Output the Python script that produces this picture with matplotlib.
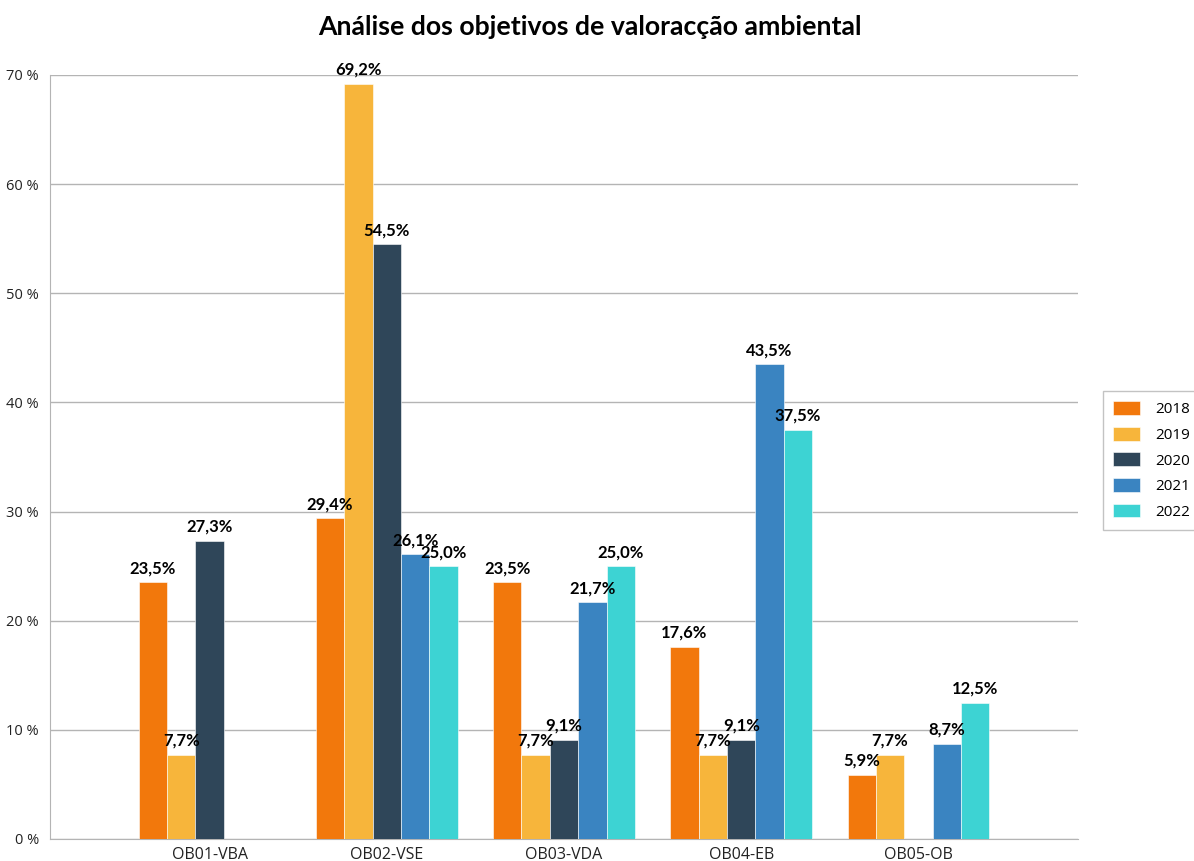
import numpy as np
import matplotlib
matplotlib.use('Agg')
from matplotlib import pyplot as plt

plt.rcParams['font.family'] = ['Open Sans', 'DejaVu Sans']
BOLD = ['Lato', 'DejaVu Sans']

# percentages per objective, one list per year (nan = no value)
categories = ['OB01-VBA', 'OB02-VSE', 'OB03-VDA', 'OB04-EB', 'OB05-OB']
years = ['2018', '2019', '2020', '2021', '2022']
v2018 = [23.5, 29.4, 23.5, 17.6, 5.9]
v2019 = [7.7, 69.2, 7.7, 7.7, 7.7]
v2020 = [27.3, 54.5, 9.1, 9.1, np.nan]
v2021 = [np.nan, 26.1, 21.7, 43.5, 8.7]
v2022 = [np.nan, 25.0, 25.0, 37.5, 12.5]
colors = ['#F2780C', '#F7B53B', '#2F4659', '#3A84C1', '#3DD3D3']

series = [v2018, v2019, v2020, v2021, v2022]

fig = plt.figure(figsize=(11.94, 8.61), dpi=100)
ax = fig.add_axes([0.0419, 0.0256, 0.8609, 0.8873])

x = np.arange(len(categories))
w = 0.16
for i, (vals, yr, c) in enumerate(zip(series, years, colors)):
    pos = x + (i - 2) * w
    vals = np.array(vals, dtype=float)
    ax.bar(pos, vals, width=w, color=c, edgecolor='#ffffff', linewidth=0.4,
           label=yr, zorder=3)
    for p, v in zip(pos, vals):
        if np.isnan(v):
            continue
        ax.text(p, v + 0.55, ('%.1f%%' % v).replace('.', ','), ha='center',
                va='bottom', fontsize=12, fontweight='bold', color='black',
                family=BOLD, zorder=4)

ax.set_xlim(-0.9, 4.9)
ax.set_ylim(0, 70)
ax.set_yticks(range(0, 71, 10))
ax.set_yticklabels(['%d %%' % t for t in range(0, 71, 10)])
ax.set_xticks(x)
ax.set_xticklabels(categories, fontsize=11.5)
ax.tick_params(axis='both', length=0, colors='#222222')
ax.tick_params(axis='y', pad=8, labelsize=10.5)
ax.tick_params(axis='x', pad=6)
ax.grid(axis='y', color='#b4b4b4', linewidth=1, zorder=0)
for s in ['top', 'right']:
    ax.spines[s].set_visible(False)
ax.spines['left'].set_color('#b4b4b4')
ax.spines['bottom'].set_color('#b4b4b4')

fig.text(0.4937, 0.969, 'Análise dos objetivos de valoracção ambiental',
         fontsize=19.2, fontweight='bold', family=BOLD, ha='center', va='center')

leg = ax.legend(loc='center left', bbox_to_anchor=(1.024, 0.4954), fontsize=11,
                frameon=True, fancybox=False, edgecolor='#b4b4b4',
                handlelength=1.75, handleheight=1.0, labelspacing=0.62,
                borderpad=0.7, handletextpad=1.0, borderaxespad=0)

fig.savefig('out.png', dpi=100)
